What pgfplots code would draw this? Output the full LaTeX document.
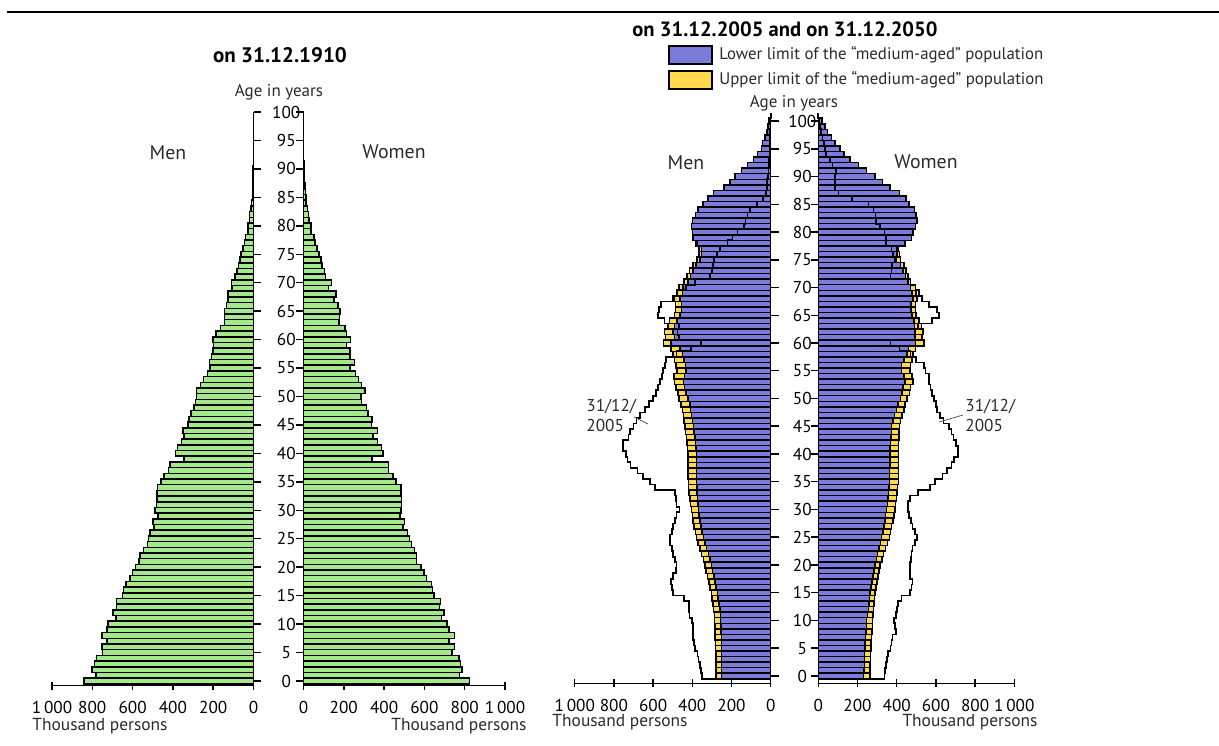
\documentclass[border=0pt]{standalone}
\usepackage{pgfplots}
\pgfplotsset{compat=1.18}
\usepackage{pgfplotstable}
\usepackage{fontspec}
\setmainfont{PT Sans}
\definecolor{grn}{HTML}{A3E88A}
\definecolor{blu}{HTML}{7B7BDC}
\definecolor{yel}{HTML}{FFD84C}
\definecolor{txt}{HTML}{2A2A2A}

\pgfplotstableread{
age m w
0 840 824
1 782 774
2 802 787
3 789 778
4 778 771
5 750 738
6 753 750
7 728 722
8 753 750
9 728 722
10 723 713
11 682 684
12 698 697
13 679 675
14 679 679
15 651 647
16 646 639
17 634 634
18 613 610
19 601 598
20 585 582
21 568 562
22 563 560
23 547 552
24 527 535
25 522 527
26 514 516
27 494 494
28 499 502
29 474 478
30 488 483
31 481 486
32 479 486
33 479 483
34 476 483
35 460 458
36 443 445
37 423 423
38 415 423
39 344 341
40 387 395
41 377 387
42 357 366
43 346 346
44 349 366
45 325 338
46 321 341
47 310 321
48 295 313
49 287 288
50 283 285
51 283 306
52 264 287
53 247 272
54 229 259
55 217 231
56 219 252
57 209 231
58 201 231
59 198 214
60 201 234
61 185 214
62 165 206
63 143 176
64 143 178
65 143 181
66 135 170
67 127 152
68 127 161
69 107 124
70 110 140
71 91 110
72 82 105
73 74 92
74 66 86
75 61 77
76 53 66
77 44 58
78 40 53
79 28 38
80 28 36
81 20 28
82 20 25
83 12 20
84 10 13
85 6 13
86 5 10
87 4 8
88 3 6
89 2 5
90 2 3
91 1 2
}\tabA

% row -1 and row 101 close the 2005 outline at the axis
\pgfplotstableread{
age mL mU mP wL wU wP
-1 0 0 0 0 0 0
0 250 279 349 230 264 337
1 250 279 355 232 264 341
2 250 279 361 235 264 345
3 250 279 368 235 265 351
4 250 280 374 235 267 357
5 250 281 386 238 269 369
6 251 282 392 239 270 374
7 252 283 395 241 272 379
8 253 284 395 243 274 396
9 254 285 395 245 276 390
10 255 286 400 247 277 386
11 257 288 415 251 279 395
12 260 291 417 255 281 400
13 264 295 417 258 284 408
14 268 299 442 261 287 425
15 272 302 497 264 289 468
16 278 309 505 269 294 476
17 284 316 508 274 299 481
18 290 322 497 279 304 468
19 296 329 485 284 310 466
20 301 335 480 289 315 468
21 310 344 488 296 324 472
22 318 352 497 303 333 476
23 327 361 505 310 342 481
24 336 370 514 317 352 493
25 344 378 514 323 362 505
26 350 385 505 329 368 493
27 356 391 497 334 373 481
28 361 396 488 339 380 473
29 365 400 480 344 386 464
30 369 404 466 349 391 459
31 372 409 480 352 394 459
32 374 413 485 355 398 468
33 376 417 490 358 402 510
34 377 419 590 360 405 570
35 378 420 616 362 408 595
36 378 421 650 363 408 634
37 379 422 680 364 408 655
38 379 423 715 365 408 680
39 379 423 730 365 408 692
40 378 423 738 366 408 714
41 380 424 755 367 409 714
42 383 426 752 369 410 702
43 387 430 726 371 411 689
44 391 434 718 373 412 680
45 395 437 700 374 413 668
46 400 442 684 380 420 638
47 404 446 667 388 428 621
48 408 450 640 398 436 604
49 413 458 620 407 441 600
50 422 468 600 419 453 590
51 431 474 585 427 465 581
52 439 482 576 431 470 573
53 444 491 565 441 482 564
54 439 494 555 436 479 564
55 431 477 550 424 467 547
56 434 482 540 424 470 538
57 443 491 533 436 479 500
58 451 499 480 453 482 470
59 462 508 405 460 496 414
60 508 547 354 496 538 368
61 491 537 468 496 530 490
62 499 542 475 492 533 495
63 491 525 468 492 526 510
64 479 516 542 487 513 581
65 462 491 576 479 499 615
66 456 485 570 474 496 607
67 456 485 559 474 496 564
68 462 491 500 482 504 530
69 451 477 480 479 499 513
70 448 468 431 470 496 496
71 422 443 388 458 470 470
72 410 427 310 444 458 368
73 397 414 300 431 448 373
74 380 397 295 419 436 376
75 362 376 291 398 419 390
76 354 366 274 402 414 380
77 354 366 260 402 410 373
78 376 383 220 441 441 347
79 393 400 195 475 475 345
80 400 400 170 482 482 338
81 405 405 135 496 496 316
82 400 400 128 504 504 296
83 383 383 118 499 499 291
84 371 371 106 491 491 282
85 345 345 70 462 462 256
86 320 320 40 448 448 171
87 291 291 25 413 413 103
88 238 238 20 366 366 85
89 207 207 18 328 328 85
90 182 182 15 289 289 85
91 148 148 12 247 247 90
92 119 119 10 204 204 73
93 88 88 8 162 162 60
94 68 68 6 131 131 39
95 46 46 5 110 110 34
96 41 41 4 85 85 29
97 29 29 3 68 68 22
98 20 20 2 46 46 15
99 15 15 1 34 34 10
100 8 8 1 20 20 5
101 0 0 0 0 0 0
}\tabB

\pgfplotsset{
  pyr/.style={
    scale only axis, clip=false, anchor=south west,
    enlargelimits=false,
    axis x line*=bottom,
    tick align=outside,
    major tick length=3.9pt,
    axis line style={line width=0.75pt, black},
    every tick/.style={black, line width=0.75pt},
    major x tick style={yshift=2pt},
    ytick={0,5,...,100},
    tick label style={font=\fontsize{8.6}{9}\selectfont, text=black},
    xticklabel style={yshift=-0.5pt},
  },
  men/.style={pyr, axis y line*=right,
    xmin=-1000, xmax=0,
    xtick={-1000,-800,-600,-400,-200,0},
    xticklabels={1\,000,800,600,400,200,0},
    yticklabels={0,5,10,15,20,25,30,35,40,45,50,55,60,65,70,75,80,85,90,95,100},
  },
  women/.style={pyr, axis y line*=left,
    xmin=0, xmax=1000,
    xtick={0,200,400,600,800,1000},
    xticklabels={0,200,400,600,800,1\,000},
    yticklabels={},
  },
  bars/.style={xbar, bar width=1, bar shift=0pt, draw=black, line width=0.75pt,
    restrict y to domain=0:100},
  outl/.style={const plot, no marks, black, line width=0.85pt},
}

\begin{document}
\begin{tikzpicture}[x=0.5pt,y=-0.5pt]
\useasboundingbox (0,0) rectangle (1219,745);
\draw[line width=1.3pt] (7,12) -- (1219,12);

% ---------- 1910 ----------
\begin{axis}[men, at={({52*0.5pt},{-685.7*0.5pt})},
  width=100.75pt, height=286.85pt, ymin=-0.83, ymax=100,
  yticklabel style={anchor=center, xshift=12.5pt}]
\addplot[bars, fill=grn] table[x expr=-\thisrow{m}, y=age] {\tabA};
\end{axis}
\begin{axis}[women, at={({303.5*0.5pt},{-685.7*0.5pt})},
  width=100.75pt, height=286.85pt, ymin=-0.83, ymax=100]
\addplot[bars, fill=grn] table[x=w, y=age] {\tabA};
\end{axis}

% ---------- 2005 / 2050 ----------
\begin{axis}[men, at={({574.7*0.5pt},{-683.3*0.5pt})},
  width=98pt, height=281.15pt, ymin=-1.32, ymax=100,
  yticklabel style={anchor=center, xshift=11.9pt}]
\addplot[bars, fill=yel] table[x expr=-\thisrow{mU}, y=age] {\tabB};
\addplot[bars, fill=blu] table[x expr=-\thisrow{mL}, y=age] {\tabB};
\addplot[outl] table[x expr=-\thisrow{mP}, y expr=\thisrow{age}+0.5] {\tabB};
\end{axis}
\begin{axis}[women, at={({818.3*0.5pt},{-683.3*0.5pt})},
  width=98pt, height=281.15pt, ymin=-1.32, ymax=100]
\addplot[bars, fill=yel] table[x=wU, y=age] {\tabB};
\addplot[bars, fill=blu] table[x=wL, y=age] {\tabB};
\addplot[outl] table[x=wP, y expr=\thisrow{age}+0.5] {\tabB};
\end{axis}

% ---------- texts ----------
\node[font=\fontsize{10.5}{12}\selectfont\bfseries] at (280,55) {on 31.12.1910};
\node[font=\fontsize{10.3}{12}\selectfont\bfseries, anchor=west, inner sep=0pt] at (632,29) {on 31.12.2005 and on 31.12.2050};
\node[font=\fontsize{8.5}{9}\selectfont, text=txt] at (279,92) {Age in years};
\node[font=\fontsize{8.5}{9}\selectfont, text=txt] at (794,103) {Age in years};
\node[font=\fontsize{9.9}{11}\selectfont, text=txt] at (168,153) {Men};
\node[font=\fontsize{9.9}{11}\selectfont, text=txt] at (394,152) {Women};
\node[font=\fontsize{9.9}{11}\selectfont, text=txt] at (686,163) {Men};
\node[font=\fontsize{9.9}{11}\selectfont, text=txt] at (926,162) {Women};
\node[font=\fontsize{8.7}{9}\selectfont, text=txt] at (100,726) {Thousand persons};
\node[font=\fontsize{8.7}{9}\selectfont, text=txt] at (459,726) {Thousand persons};
\node[font=\fontsize{8.7}{9}\selectfont, text=txt] at (620,722) {Thousand persons};
\node[font=\fontsize{8.7}{9}\selectfont, text=txt] at (970,722) {Thousand persons};
% legend
\draw[fill=blu, line width=0.75pt] (669,46) rectangle (712,64);
\draw[fill=yel, line width=0.75pt] (669,71) rectangle (712,89);
\node[font=\fontsize{8.4}{9}\selectfont, text=txt, anchor=west, inner sep=0pt] at (719,55) {Lower limit of the “medium-aged” population};
\node[font=\fontsize{8.4}{9}\selectfont, text=txt, anchor=west, inner sep=0pt] at (719,80) {Upper limit of the “medium-aged” population};
% 2005 annotations
\node[font=\fontsize{8.6}{9}\selectfont, text=txt, anchor=west, inner sep=0pt] at (586,407) {31/12/};
\node[font=\fontsize{8.6}{9}\selectfont, text=txt, anchor=west, inner sep=0pt] at (586,425) {2005};
\draw[line width=0.4pt, gray!70!black] (634,417) -- (648,424);
\node[font=\fontsize{8.6}{9}\selectfont, text=txt, anchor=west, inner sep=0pt] at (965,407) {31/12/};
\node[font=\fontsize{8.6}{9}\selectfont, text=txt, anchor=west, inner sep=0pt] at (965,425) {2005};
\draw[line width=0.4pt, gray!70!black] (939,422) -- (963,415);
\end{tikzpicture}
\end{document}
